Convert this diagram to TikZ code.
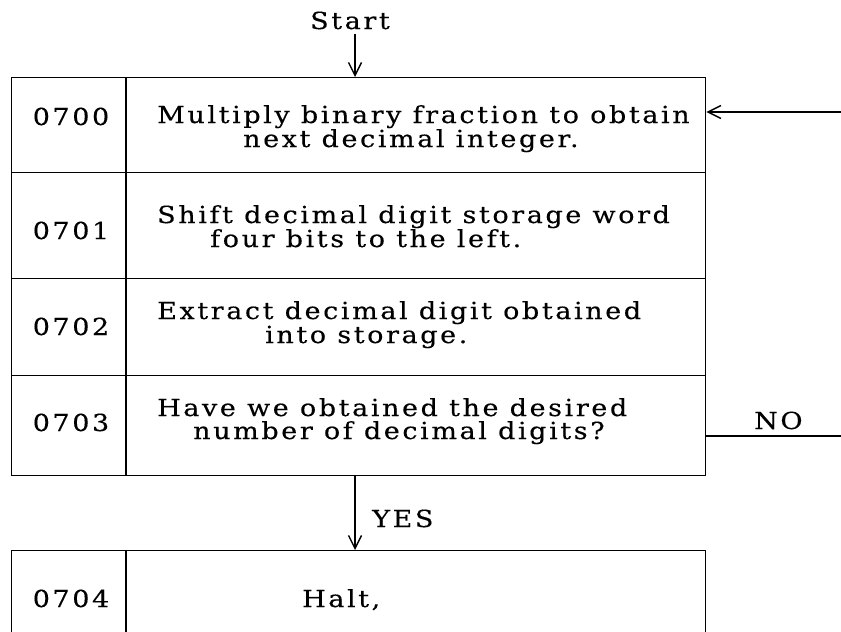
\documentclass[tikz,border=0pt]{standalone}
\usepackage{fontspec}
\setmainfont{DejaVu Serif}[LetterSpace=11,FakeStretch=1.15,FakeBold=0.3]
\usetikzlibrary{arrows.meta}
\begin{document}
\begin{tikzpicture}[x=1pt,y=-1pt,
  rowbox/.style={draw, line width=1.4pt, minimum width=694pt, inner sep=0pt, anchor=north west},
  txt/.style={anchor=base west, inner sep=0pt, font=\fontsize{23.5}{24}\selectfont},
  num/.style={anchor=base, inner sep=0pt, font=\fontsize{23.5}{24}\selectfont},
  plain/.style={line width=1.4pt},
  link/.style={line width=1.4pt, -{Straight Barb[length=13pt,width=13pt,line width=1.4pt]}}]
\useasboundingbox (0,0) rectangle (841,632);
% rows
\node[rowbox, minimum height=95pt] (r0) at (11,77) {};
\node[rowbox, minimum height=106pt] (r1) at (11,172) {};
\node[rowbox, minimum height=97pt] (r2) at (11,278) {};
\node[rowbox, minimum height=100pt] (r3) at (11,375) {};
\node[rowbox, minimum height=110pt] (r4) at (11,550) {};
\draw[plain] (126,77) -- (126,475);
\draw[plain] (126,550) -- (126,640);
% numbers
\node[num] (n0) at (71,125) {0700};
\node[num] (n1) at (71,239) {0701};
\node[num] (n2) at (71,335) {0702};
\node[num] (n3) at (71,431) {0703};
\node[num] (n4) at (71,607) {0704};
% texts
\node[txt] (t0a) at (157,123) {Multiply binary fraction to obtain};
\node[txt] (t0b) at (243,147) {next decimal integer.};
\node[txt] (t1a) at (157,223) {Shift decimal digit storage word};
\node[txt] (t1b) at (210,247) {four bits to the left.};
\node[txt] (t2a) at (157,319) {Extract decimal digit obtained};
\node[txt] (t2b) at (265,343) {into storage.};
\node[txt] (t3a) at (157,416) {Have we obtained the desired};
\node[txt] (t3b) at (193,439) {number of decimal digits?};
\node[txt] (t4) at (302,607) {Halt,};
% start
\node[num] (start) at (350,29) {Start};
\coordinate (s0) at (355,34);
\draw[link] (s0) -- (s0 |- r0.north);
% yes
\coordinate (y0) at (355,475);
\draw[link] (y0) -- (y0 |- r4.north);
\node[txt] (yes) at (372,527) {YES};
% loop
\coordinate (loopin) at (841,112);
\draw[link] (loopin) -- (loopin -| r0.east);
\coordinate (loopout) at (841,436);
\draw[plain] (loopout -| r3.east) -- (loopout);
\node[txt] (no) at (754,429) {NO};
\end{tikzpicture}
\end{document}
